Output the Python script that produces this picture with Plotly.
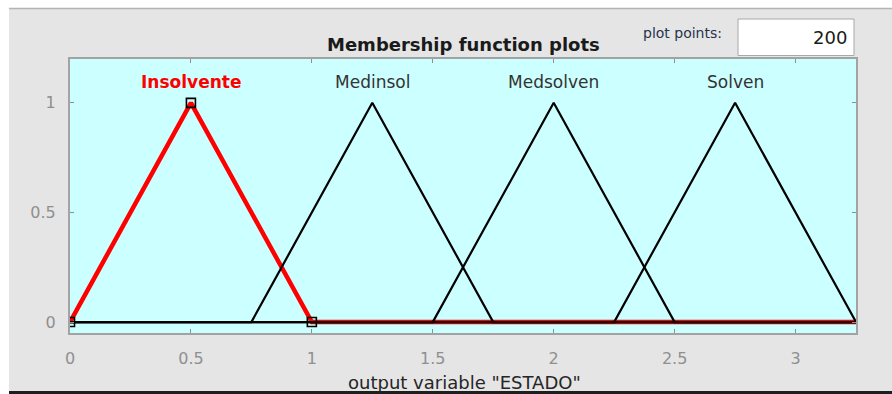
import plotly.graph_objects as go

# Output variable "ESTADO": triangular membership functions [a, b, c]
mf_names = ["Insolvente", "Medinsol", "Medsolven", "Solven"]
mf_params = [
    [0.0, 0.5, 1.0],
    [0.75, 1.25, 1.75],
    [1.5, 2.0, 2.5],
    [2.25, 2.75, 3.25],
]
x_range = [0.0, 3.25]
y_range = [-0.05, 1.2]
x_ticks = [0, 0.5, 1, 1.5, 2, 2.5, 3]
y_ticks = [0, 0.5, 1]
plot_points = 200
selected = 0  # highlighted membership function

W, H = 892, 394
L, R, T, B = 70, 36, 59, 61
PW, PH = W - L - R, H - T - B

def px(xp):
    return (xp - L) / PW

def py(yp):
    return (H - B - yp) / PH

BG = "#e5e5e5"
CYAN = "#ccffff"
AXC = "#a3a3a3"
TICKC = "#8f8f8f"
FONT = "DejaVu Sans, Arial, sans-serif"

fig = go.Figure()

def mf_curve(p):
    a, b, c = p
    return [x_range[0], a, b, c, x_range[1]], [0, 0, 1, 0, 0]

# highlighted MF underneath, thick red
xs, ys = mf_curve(mf_params[selected])
fig.add_trace(go.Scatter(x=xs, y=ys, mode="lines",
                         line=dict(color="#ff0000", width=4.5),
                         hoverinfo="skip", showlegend=False))
for i, p in enumerate(mf_params):
    if i == selected:
        continue
    xs, ys = mf_curve(p)
    fig.add_trace(go.Scatter(x=xs, y=ys, mode="lines",
                             line=dict(color="#000000", width=2.2),
                             hoverinfo="skip", showlegend=False))

# vertex handles on the highlighted MF
a, b, c = mf_params[selected]
fig.add_trace(go.Scatter(x=[a, b, c], y=[0, 1, 0], mode="markers",
                         marker=dict(symbol="square-open", size=9, color="#000000",
                                     line=dict(width=1.6)),
                         hoverinfo="skip", showlegend=False))

annotations = []
for i, (name, p) in enumerate(zip(mf_names, mf_params)):
    sel = i == selected
    annotations.append(dict(
        x=p[1], y=1.095, xref="x", yref="y", text=f"<b>{name}</b>" if sel else name,
        showarrow=False, xanchor="center", yanchor="middle",
        font=dict(family=FONT, size=17, color="#ff0000" if sel else "#333333")))

annotations += [
    dict(x=px(463), y=py(44), xref="paper", yref="paper",
         text="<b>Membership function plots</b>", showarrow=False,
         xanchor="center", yanchor="middle",
         font=dict(family=FONT, size=18, color="#1a1a1a")),
    dict(x=px(724), y=py(33), xref="paper", yref="paper",
         text="plot points:", showarrow=False, xanchor="right", yanchor="middle",
         font=dict(family=FONT, size=14, color="#26334d")),
    dict(x=px(849), y=py(38), xref="paper", yref="paper",
         text=str(plot_points), showarrow=False, xanchor="right", yanchor="middle",
         font=dict(family=FONT, size=18, color="#1a1a1a")),
    dict(x=px(464), y=py(382), xref="paper", yref="paper",
         text='output variable "ESTADO"', showarrow=False,
         xanchor="center", yanchor="middle",
         font=dict(family=FONT, size=18, color="#262626")),
]

shapes = [
    # white strips framing the panel
    dict(type="rect", xref="paper", yref="paper", x0=px(0), x1=px(W), y0=py(0), y1=py(8),
         fillcolor="#ffffff", line=dict(width=0), layer="below"),
    dict(type="line", xref="paper", yref="paper", x0=px(9), x1=px(W), y0=py(8.5), y1=py(8.5),
         line=dict(color="#b4b4b4", width=1.5), layer="below"),
    dict(type="rect", xref="paper", yref="paper", x0=px(0), x1=px(9), y0=py(0), y1=py(H),
         fillcolor="#ffffff", line=dict(width=0), layer="below"),
    # plot-points edit box
    dict(type="rect", xref="paper", yref="paper", x0=px(738), x1=px(854), y0=py(19), y1=py(55.5),
         fillcolor="#ffffff", line=dict(color="#a8a8a8", width=1), layer="below"),
    # dark bottom edge
    dict(type="rect", xref="paper", yref="paper", x0=px(9), x1=px(W), y0=py(391), y1=py(H + 2),
         fillcolor="#1e1e1e", line=dict(width=0), layer="above"),
]

axis_common = dict(showgrid=False, zeroline=False, showline=True, linecolor=AXC,
                   linewidth=2, mirror="ticks", ticks="inside", ticklen=4,
                   tickwidth=1, tickcolor=TICKC,
                   tickfont=dict(family=FONT, size=16, color=TICKC), fixedrange=True)

fig.update_layout(
    width=W, height=H,
    margin=dict(l=L, r=R, t=T, b=B, pad=0),
    paper_bgcolor=BG, plot_bgcolor=CYAN,
    xaxis=dict(range=x_range, tickvals=x_ticks,
               ticktext=[f"{v:g}" for v in x_ticks], ticklabelstandoff=10, **axis_common),
    yaxis=dict(range=y_range, tickvals=y_ticks,
               ticktext=[f"{v:g}" for v in y_ticks], ticklabelstandoff=9, **axis_common),
    annotations=annotations, shapes=shapes,
)

fig.write_html("out.html", config={"displayModeBar": False})
